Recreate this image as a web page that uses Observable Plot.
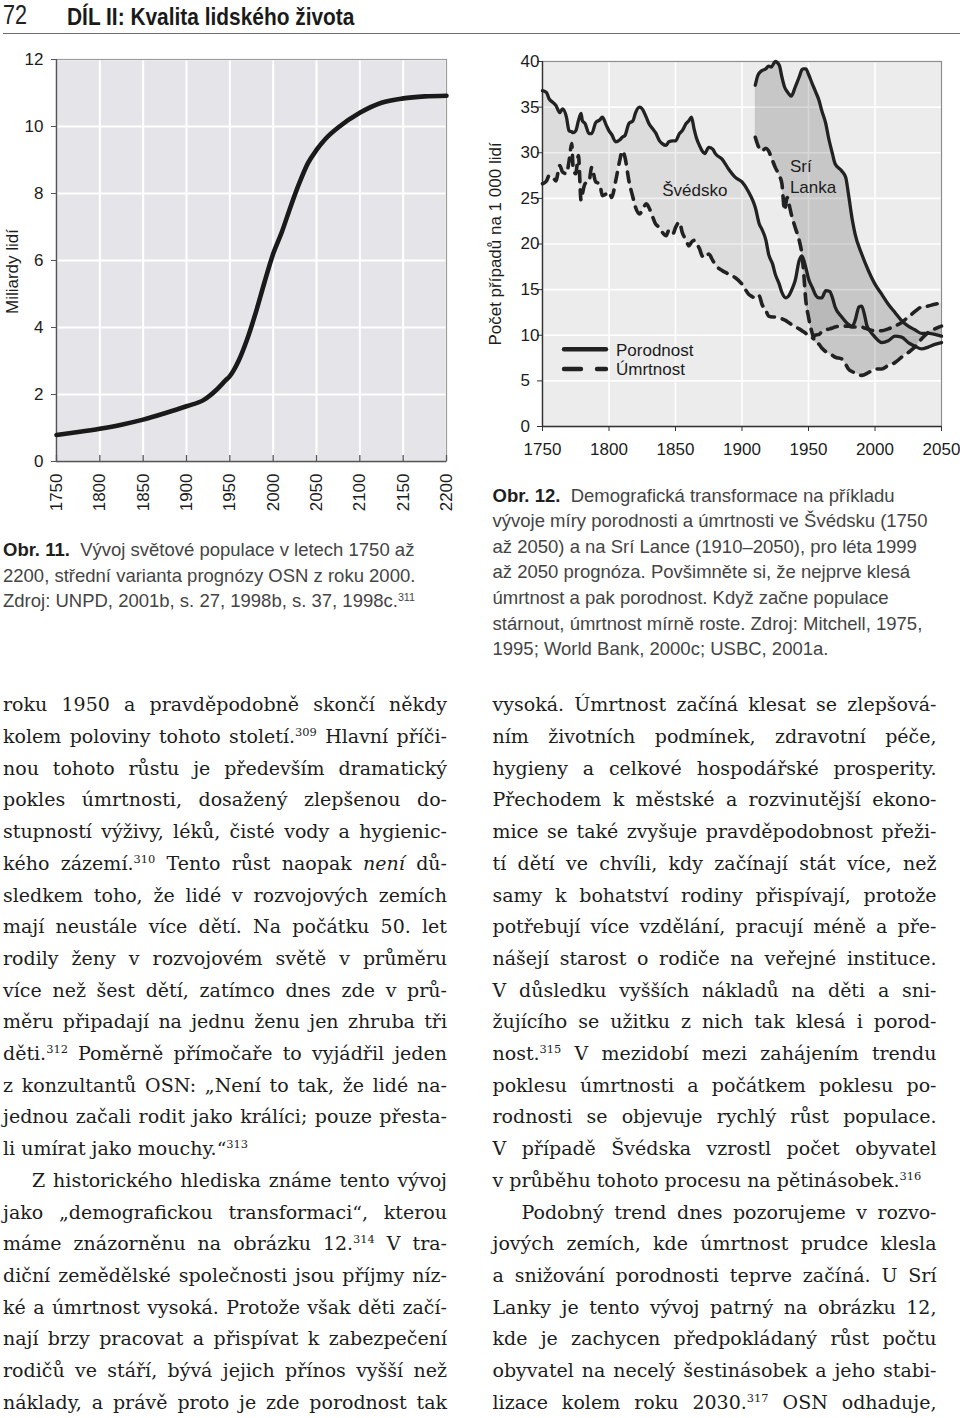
<!DOCTYPE html>
<html lang="cs">
<head>
<meta charset="utf-8">
<script src="https://cdn.jsdelivr.net/npm/d3@7"></script>
<script src="https://cdn.jsdelivr.net/npm/@observablehq/plot@0.6"></script>
<style>
  html, body { margin: 0; padding: 0; background: #fff; }
  body { width: 960px; height: 1418px; position: relative; overflow: hidden; font-family: "Liberation Sans", Arial, sans-serif; color: #1a1a1a; }
  .abs { position: absolute; white-space: nowrap; }
  .hdr-num { left: 3px; top: 2px; font-size: 27px; line-height: 27px; transform: scaleX(0.8); transform-origin: left top; color: #222; }
  .hdr-title { left: 67px; top: 5px; font-size: 24px; line-height: 24px; font-weight: bold; transform: scaleX(0.87); transform-origin: left top; color: #1a1a1a; }
  .hdr-rule { left: 3px; top: 32.5px; width: 957px; height: 1.5px; background: #6e6e6e; }
  .cap { position: absolute; white-space: nowrap; font-size: 18.5px; line-height: 25.6px; color: #444; }
  .cap b { color: #1e1e1e; }
  .cap sup { font-size: 0.58em; line-height: 0; vertical-align: 0; position: relative; top: -0.62em; }
  .line sup { font-size: 0.6em; line-height: 0; vertical-align: 0; position: relative; top: -0.6em; }
  .line { position: absolute; white-space: nowrap; font-family: "DejaVu Serif", "Liberation Serif", serif; font-size: 19px; line-height: 31.7px; height: 31.7px; color: #1c1c1c; }
  #c1, #c2 { position: absolute; }
  #c1 { left: 0; top: 40px; }
  #c2 { left: 480px; top: 40px; }
  #legend { position: absolute; left: 540px; top: 330px; }
</style>
</head>
<body>
<div class="abs hdr-num">72</div>
<div class="abs hdr-title">DÍL II: Kvalita lidského života</div>
<div class="abs hdr-rule"></div>
<div id="c1"></div>
<div id="c2"></div>
<svg id="legend" width="160" height="60"></svg>
<div id="text"></div>
<script>
// ---------- Obr. 11: world population (billions) ----------
const popYears = [1750,1775,1800,1825,1850,1875,1900,1920,1935,1945,1950,1960,1970,1980,1990,2000,2010,2020,2030,2040,2050,2060,2075,2100,2125,2150,2175,2200];
const popBillions = [0.79,0.88,0.98,1.1,1.25,1.44,1.65,1.84,2.15,2.42,2.55,3.0,3.65,4.45,5.35,6.2,6.85,7.6,8.3,8.9,9.3,9.62,9.97,10.41,10.71,10.84,10.9,10.92];
const popXTicks = [1750,1800,1850,1900,1950,2000,2050,2100,2150,2200];
const popYTicks = [0,2,4,6,8,10,12];
const popYLabel = "Miliardy lidí";

// ---------- Obr. 12: birth and death rates per 1000 ----------
const swedenYears = [
  1750,1753,1755,1758,1760,1763,1765,1768,1770,1772,
  1773,1775,1777,1779,1780,1782,1785,1787,1790,1793,
  1795,1798,1800,1802,1805,1808,1810,1812,1815,1818,
  1820,1823,1825,1828,1830,1833,1835,1838,1840,1843,
  1845,1848,1850,1853,1855,1858,1860,1862,1864,1866,
  1868,1870,1872,1875,1878,1880,1885,1890,1895,1900,
  1905,1908,1910,1913,1915,1918,1920,1923,1925,1928,
  1930,1933,1935,1938,1940,1943,1945,1948,1950,1953,
  1955,1958,1960,1963,1966,1968,1970,1975,1980,1983,
  1985,1988,1990,1992,1994,1996,2000,2005,2010,2015,
  2020,2025,2030,2035,2040,2045,2050];
const swedenBirth = [
  36.8,36.6,35.9,35.5,35.2,34.4,34.8,33.9,32.4,32.3,
  32.2,32.4,33.5,34.3,33.5,33.2,32.1,32.1,33.3,33.6,
  33.9,33.0,32.4,32.0,31.2,31.4,31.7,31.9,33.2,33.5,
  34.4,35.0,34.8,33.9,33.2,32.6,32.2,31.3,31.0,30.8,
  31.2,31.3,31.3,32.1,32.4,33.2,33.5,33.9,32.6,31.5,
  30.8,30.2,29.9,30.6,30.4,29.9,29.3,28.2,27.3,26.8,
  25.7,24.8,24.0,22.2,21.6,20.4,18.9,17.8,16.7,15.6,
  14.7,14.1,14.3,15.2,16.0,18.2,18.7,17.4,16.2,15.2,
  14.5,14.1,14.1,14.9,14.8,14.1,13.1,12.0,11.2,11.0,
  11.6,13.1,13.2,12.3,11.0,10.5,9.8,9.2,9.4,9.9,
  9.8,9.2,8.8,8.5,8.7,9.0,9.2];
const swedenDeath = [
  26.6,26.9,27.5,27.3,26.9,28.6,27.9,27.7,29.1,31.0,
  28.4,27.7,29.7,24.8,25.5,26.6,26.9,28.4,26.8,26.6,
  25.3,25.5,25.7,25.1,26.9,29.1,30.2,29.5,26.9,25.1,
  24.0,23.3,23.7,24.4,24.0,22.9,22.2,21.8,21.3,20.9,
  21.5,21.1,21.8,22.4,21.3,20.4,19.8,20.2,20.4,20.0,
  19.5,18.7,18.5,18.9,18.2,17.7,17.1,16.7,16.3,15.6,
  14.5,14.2,14.0,14.3,13.4,12.7,12.1,12.0,12.0,11.9,
  11.8,11.6,11.4,11.1,10.9,10.7,10.5,10.2,9.9,9.7,
  10.0,10.1,10.4,10.6,10.7,10.8,10.9,11.0,11.0,10.9,
  10.9,10.9,10.9,10.8,10.7,10.6,10.5,10.5,10.7,11.0,
  11.4,12.0,12.6,13.1,13.2,13.4,13.5];
const sriLankaYears = [
  1910,1912,1915,1918,1920,1922,1925,1928,1930,1932,
  1934,1935,1937,1940,1943,1945,1946,1948,1950,1953,
  1955,1958,1960,1963,1965,1968,1970,1975,1978,1980,
  1983,1985,1990,1995,2000,2005,2010,2015,2020,2025,
  2030,2035,2040,2045,2050];
const sriLankaBirth = [
  37.4,38.5,39.0,39.2,39.5,39.4,40.0,39.6,38.3,37.2,
  36.7,36.5,36.2,37.2,38.3,39.1,39.2,39.2,38.6,37.5,
  36.8,35.7,34.6,33.2,31.7,29.9,28.8,28.0,27.3,25.5,
  22.6,21.1,18.9,17.1,15.6,14.5,13.4,12.5,11.6,11.0,
  10.6,10.2,10.2,10.1,9.9];
const sriLankaDeath = [
  31.7,30.8,30.2,30.5,30.2,29.5,28.4,27.5,26.6,23.7,
  25.1,24.6,23.3,21.8,20.4,18.9,17.5,13.8,12.0,10.1,
  9.2,9.0,8.6,8.2,8.0,7.8,7.6,7.4,6.8,6.3,
  6.0,5.9,5.6,5.9,6.3,6.3,6.7,7.0,7.6,8.1,
  8.7,9.6,10.3,10.7,11.0];
const rateXTicks = [1750,1800,1850,1900,1950,2000,2050];
const rateYTicks = [0,5,10,15,20,25,30,35,40];
const rateYLabel = "Počet případů na 1 000 lidí";
const countryLabels = ["Švédsko", "Srí\nLanka"];
const countryLabelYears = [1840, 1936];
const countryLabelValues = [26.05, 27.45];
const legendLabels = ["Porodnost", "Úmrtnost"];

// ---------- captions and body text ----------
const caption11 = [
  "<b>Obr. 11.</b>&nbsp; Vývoj světové populace v letech 1750 až",
  "2200, střední varianta prognózy OSN z roku 2000.",
  "Zdroj: UNPD, 2001b, s. 27, 1998b, s. 37, 1998c.<sup>311</sup>"
];
const caption12 = [
  "<b>Obr. 12.</b>&nbsp; Demografická transformace na příkladu",
  "vývoje míry porodnosti a úmrtnosti ve Švédsku (1750",
  "až 2050) a na Srí Lance (1910–2050), pro léta\u20091999",
  "až 2050 prognóza. Povšimněte si, že nejprve klesá",
  "úmrtnost a pak porodnost. Když začne populace",
  "stárnout, úmrtnost mírně roste. Zdroj: Mitchell, 1975,",
  "1995; World Bank, 2000c; USBC, 2001a."
];
const col1Lines = [
  "roku 1950 a pravděpodobně skončí někdy",
  "kolem poloviny tohoto století.<sup>309</sup> Hlavní příči-",
  "nou tohoto růstu je především dramatický",
  "pokles úmrtnosti, dosažený zlepšenou do-",
  "stupností výživy, léků, čisté vody a hygienic-",
  "kého zázemí.<sup>310</sup> Tento růst naopak <i>není</i> dů-",
  "sledkem toho, že lidé v rozvojových zemích",
  "mají neustále více dětí. Na počátku 50. let",
  "rodily ženy v rozvojovém světě v průměru",
  "více než šest dětí, zatímco dnes zde v prů-",
  "měru připadají na jednu ženu jen zhruba tři",
  "děti.<sup>312</sup> Poměrně přímočaře to vyjádřil jeden",
  "z konzultantů OSN: „Není to tak, že lidé na-",
  "jednou začali rodit jako králíci; pouze přesta-",
  "li umírat jako mouchy.“<sup>313</sup>",
  "Z historického hlediska známe tento vývoj",
  "jako „demografickou transformaci“, kterou",
  "máme znázorněnu na obrázku 12.<sup>314</sup> V tra-",
  "diční zemědělské společnosti jsou příjmy níz-",
  "ké a úmrtnost vysoká. Protože však děti začí-",
  "nají brzy pracovat a přispívat k zabezpečení",
  "rodičů ve stáří, bývá jejich přínos vyšší než",
  "náklady, a právě proto je zde porodnost tak"
];
const col1Indent = [15];
const col1Last = [14];
const col2Lines = [
  "vysoká. Úmrtnost začíná klesat se zlepšová-",
  "ním životních podmínek, zdravotní péče,",
  "hygieny a celkové hospodářské prosperity.",
  "Přechodem k městské a rozvinutější ekono-",
  "mice se také zvyšuje pravděpodobnost přeži-",
  "tí dětí ve chvíli, kdy začínají stát více, než",
  "samy k bohatství rodiny přispívají, protože",
  "potřebují více vzdělání, pracují méně a pře-",
  "nášejí starost o rodiče na veřejné instituce.",
  "V důsledku vyšších nákladů na děti a sni-",
  "žujícího se užitku z nich tak klesá i porod-",
  "nost.<sup>315</sup> V mezidobí mezi zahájením trendu",
  "poklesu úmrtnosti a počátkem poklesu po-",
  "rodnosti se objevuje rychlý růst populace.",
  "V případě Švédska vzrostl počet obyvatel",
  "v průběhu tohoto procesu na pětinásobek.<sup>316</sup>",
  "Podobný trend dnes pozorujeme v rozvo-",
  "jových zemích, kde úmrtnost prudce klesla",
  "a snižování porodnosti teprve začíná. U Srí",
  "Lanky je tento vývoj patrný na obrázku 12,",
  "kde je zachycen předpokládaný růst počtu",
  "obyvatel na necelý šestinásobek a jeho stabi-",
  "lizace kolem roku 2030.<sup>317</sup> OSN odhaduje,"
];
const col2Indent = [16];
const col2Last = [15];

// ---------- build tables ----------
const population = popYears.map((year, i) => ({year, value: popBillions[i]}));
const sweden = swedenYears.map((year, i) => ({year, birth: swedenBirth[i], death: swedenDeath[i]}));
const sriLanka = sriLankaYears.map((year, i) => ({year, birth: sriLankaBirth[i], death: sriLankaDeath[i]}));
const annotations = countryLabels.map((label, i) => ({label, year: countryLabelYears[i], value: countryLabelValues[i]}));

const font = "'Liberation Sans', Arial, sans-serif";
const ink = "#1c1c1c";

// ---------- chart 1 ----------
const chart1 = Plot.plot({
  width: 470, height: 480,
  marginLeft: 56, marginRight: 24, marginTop: 19, marginBottom: 59,
  style: {fontFamily: font, fontSize: "17px", color: ink, background: "transparent", overflow: "visible"},
  x: {domain: [1750, 2200]},
  y: {domain: [0, 12]},
  marks: [
    Plot.frame({fill: "#e5e5e9", stroke: null}),
    Plot.gridX(popXTicks, {stroke: "#fff", strokeOpacity: 1, strokeWidth: 2}),
    Plot.gridY(popYTicks, {stroke: "#fff", strokeOpacity: 1, strokeWidth: 2}),
    Plot.frame({stroke: "#9c9c9c", strokeWidth: 1.2}),
    Plot.ruleX([1750], {stroke: "#555", strokeWidth: 1.4}),
    Plot.ruleY([0], {stroke: "#555", strokeWidth: 1.4}),
    Plot.tickX(popXTicks, {x: d => d, insetTop: 396, stroke: "#555", strokeWidth: 1.3}),
    Plot.line(population, {x: "year", y: "value", stroke: "#1a1a1a", strokeWidth: 4.6, curve: "monotone-x", strokeLinecap: "round"}),
    Plot.axisY(popYTicks, {tickSize: 5, tickPadding: 8, label: null, stroke: "#555", tickFormat: d => String(d)}),
    Plot.axisX(popXTicks, {tickSize: 0, tickPadding: 12, tickRotate: -90, textAnchor: "end", label: null, tickFormat: d => String(d)}),
    Plot.text([popYLabel], {frameAnchor: "left", textAnchor: "middle", rotate: -90, dx: -44, dy: 11, fontSize: 17, fill: ink})
  ]
});
document.getElementById("c1").appendChild(chart1);

// ---------- chart 2 ----------
const chart2 = Plot.plot({
  width: 480, height: 440,
  marginLeft: 62, marginRight: 19, marginTop: 21, marginBottom: 54,
  style: {fontFamily: font, fontSize: "17px", color: ink, background: "transparent", overflow: "visible"},
  x: {domain: [1750, 2050]},
  y: {domain: [0, 40]},
  marks: [
    Plot.frame({fill: "#ececec", stroke: null}),
    Plot.gridX(rateXTicks, {stroke: "#fff", strokeOpacity: 1, strokeWidth: 1.6}),
    Plot.gridY(rateYTicks, {stroke: "#fff", strokeOpacity: 1, strokeWidth: 1.6}),
    Plot.areaY(sweden, {x: "year", y1: "death", y2: "birth", fill: "#000", fillOpacity: 0.068, curve: "monotone-x"}),
    Plot.areaY(sriLanka, {x: "year", y1: "death", y2: "birth", fill: "#000", fillOpacity: 0.155, curve: "monotone-x"}),
    Plot.frame({stroke: "#8c8c8c", strokeWidth: 1.2}),
    Plot.ruleX([1750], {stroke: "#333", strokeWidth: 1.4}),
    Plot.ruleY([0], {stroke: "#333", strokeWidth: 1.4}),
    Plot.line(sweden, {x: "year", y: "birth", stroke: "#222", strokeWidth: 3.3, curve: "monotone-x", strokeLinejoin: "round", strokeLinecap: "round"}),
    Plot.line(sriLanka, {x: "year", y: "birth", stroke: "#222", strokeWidth: 3.3, curve: "monotone-x", strokeLinejoin: "round", strokeLinecap: "round"}),
    Plot.line(sweden, {x: "year", y: "death", stroke: "#222", strokeWidth: 3.6, curve: "monotone-x", strokeDasharray: "10,8", strokeLinecap: "round"}),
    Plot.line(sriLanka, {x: "year", y: "death", stroke: "#222", strokeWidth: 3.6, curve: "monotone-x", strokeDasharray: "10,8", strokeLinecap: "round"}),
    Plot.axisY(rateYTicks, {tickSize: 5, tickPadding: 17, textAnchor: "start", label: null, stroke: "#333", tickFormat: d => String(d)}),
    Plot.axisX(rateXTicks, {tickSize: 5, tickPadding: 11, label: null, stroke: "#333", tickFormat: d => String(d)}),
    Plot.text(annotations, {x: "year", y: "value", text: "label", textAnchor: "start", lineHeight: 1.25, fontSize: 17, fill: ink}),
    Plot.text([rateYLabel], {frameAnchor: "left", textAnchor: "middle", rotate: -90, dx: -47, fontSize: 17, fill: ink})
  ]
});
document.getElementById("c2").appendChild(chart2);

// ---------- legend ----------
(function () {
  const svg = d3.select("#legend");
  const rows = [{y: 19.3, dash: null}, {y: 39, dash: "17,16"}];
  rows.forEach((r, i) => {
    svg.append("line").attr("x1", 24).attr("x2", 66).attr("y1", r.y).attr("y2", r.y)
      .attr("stroke", "#222").attr("stroke-width", 4.4).attr("stroke-linecap", "round")
      .attr("stroke-dasharray", r.dash);
    svg.append("text").attr("x", 76).attr("y", r.y + 6.3).text(legendLabels[i])
      .attr("font-family", font).attr("font-size", 17).attr("fill", ink);
  });
})();

// ---------- captions ----------
const textRoot = document.getElementById("text");
function caption(lines, left, top) {
  lines.forEach((html, i) => {
    const d = document.createElement("div");
    d.className = "cap";
    d.style.left = left + "px";
    d.style.top = (top + i * 25.6) + "px";
    d.innerHTML = html;
    textRoot.appendChild(d);
  });
}
caption(caption11, 3, 537);
caption(caption12, 492.5, 482.5);

// ---------- body text, justified line by line ----------
function column(lines, left, top, width, indents, lasts) {
  lines.forEach((html, i) => {
    const indent = indents.includes(i) ? 29 : 0;
    const d = document.createElement("div");
    d.className = "line";
    d.style.left = (left + indent) + "px";
    d.style.top = (top + i * 31.7) + "px";
    const s = document.createElement("span");
    s.innerHTML = html;
    d.appendChild(s);
    textRoot.appendChild(d);
    if (!lasts.includes(i)) {
      const w = s.getBoundingClientRect().width;
      const n = (s.textContent.match(/ /g) || []).length;
      if (n > 0) s.style.wordSpacing = ((width - indent - w) / n) + "px";
    }
  });
}
column(col1Lines, 3, 689.3, 444, col1Indent, col1Last);
column(col2Lines, 492.5, 689.3, 444, col2Indent, col2Last);
</script>
</body>
</html>
